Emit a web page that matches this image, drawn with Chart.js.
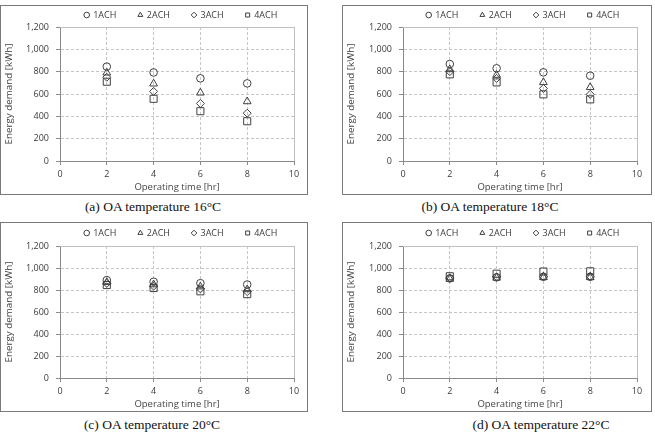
<!DOCTYPE html>
<html>
<head>
<meta charset="utf-8">
<script src="https://cdn.jsdelivr.net/npm/chart.js@4.4.1/dist/chart.umd.min.js"></script>
<style>
  body { margin: 0; background: #fff; width: 655px; height: 436px; position: relative; overflow: hidden; }
  .panel { position: absolute; border: 1px solid #7a7a7a; box-sizing: border-box; }
  .panel canvas { display: block; }
  .caption { position: absolute; width: 240px; text-align: center; font-family: "Liberation Serif", "Times New Roman", serif; font-size: 13.5px; line-height: 16px; color: #111; }
</style>
</head>
<body>
<div class="panel" id="pA" style="left:0px;top:5px;width:308px;height:190px"><canvas id="cA" width="306" height="188"></canvas></div>
<div class="panel" id="pB" style="left:342px;top:5px;width:310px;height:190px"><canvas id="cB" width="308" height="188"></canvas></div>
<div class="panel" id="pC" style="left:0px;top:222px;width:308px;height:190px"><canvas id="cC" width="306" height="188"></canvas></div>
<div class="panel" id="pD" style="left:342px;top:222px;width:310px;height:190px"><canvas id="cD" width="308" height="188"></canvas></div>
<div class="caption" style="left:33px;top:199px">(a) OA temperature 16°C</div>
<div class="caption" style="left:370px;top:199px">(b) OA temperature 18°C</div>
<div class="caption" style="left:32px;top:417px">(c) OA temperature 20°C</div>
<div class="caption" style="left:421px;top:417px">(d) OA temperature 22°C</div>
<script>
// data
const hours = [2, 4, 6, 8];
const seriesNames = ['1ACH', '2ACH', '3ACH', '4ACH'];
const xTicks = [0, 2, 4, 6, 8, 10];
const yTicks = [0, 200, 400, 600, 800, 1000, 1200];

// OA temperature 16°C
const oa16_1ach = [845, 793, 740, 695];
const oa16_2ach = [790, 692, 611, 533];
const oa16_3ach = [750, 623, 515, 428];
const oa16_4ach = [710, 557, 446, 356];
// OA temperature 18°C
const oa18_1ach = [868, 830, 794, 764];
const oa18_2ach = [820, 770, 704, 660];
const oa18_3ach = [800, 740, 650, 597];
const oa18_4ach = [776, 704, 597, 552];
// OA temperature 20°C
const oa20_1ach = [890, 875, 862, 850];
const oa20_2ach = [870, 850, 830, 805];
const oa20_3ach = [860, 835, 810, 785];
const oa20_4ach = [845, 818, 788, 762];
// OA temperature 22°C
const oa22_1ach = [905, 915, 920, 920];
const oa22_2ach = [900, 910, 915, 915];
const oa22_3ach = [910, 920, 925, 925];
const oa22_4ach = [925, 948, 968, 970];

const markers = ['circle', 'triangle', 'rectRot', 'rect'];
const markerSize = [3.8, 4.5, 4, 5];
const inkColor = '#404040';
const axisColor = '#8a8a8a';
const gridColor = '#c6c6c6';
const textColor = '#3a3a3a';
const fontFamily = '"Open Sans", "Noto Sans", sans-serif';

// legend placement + light frame on top/right of the plot area
const framePlugin = {
    id: 'frame',
    afterInit(chart, args, opts) {
        const lg = chart.legend;
        const fit = lg.fit.bind(lg);
        lg.fit = function () {
            fit();
            this.height = opts.legendH;
        };
    },
    afterLayout(chart, args, opts) {
        const lg = chart.legend;
        const pad = lg.options.labels.padding;
        const itemH = lg.options.labels.font.size;
        lg.left = opts.legendX - 600;
        lg.right = opts.legendX + 600;
        lg.top = opts.legendY - itemH / 2 - pad;
        lg.bottom = lg.top + 100;
    },
    beforeDatasetsDraw(chart) {
        const ctx = chart.ctx;
        const a = chart.chartArea;
        ctx.save();
        ctx.strokeStyle = '#c0c0c0';
        ctx.lineWidth = 1;
        ctx.beginPath();
        ctx.moveTo(a.left, a.top + 0.5);
        ctx.lineTo(a.right + 0.5, a.top + 0.5);
        ctx.lineTo(a.right + 0.5, a.bottom);
        ctx.stroke();
        ctx.restore();
    }
};

function makeChart(canvasId, values, layout) {
    const datasets = values.map((vals, i) => ({
        label: seriesNames[i],
        data: hours.map((h, j) => ({ x: h, y: vals[j] })),
        pointStyle: markers[i],
        pointRadius: markerSize[i],
        pointHoverRadius: markerSize[i],
        borderColor: inkColor,
        backgroundColor: 'rgba(0,0,0,0)',
        borderWidth: 1,
        showLine: false
    }));

    return new Chart(document.getElementById(canvasId), {
        type: 'scatter',
        data: { datasets: datasets },
        plugins: [framePlugin],
        options: {
            responsive: false,
            animation: false,
            devicePixelRatio: 1,
            layout: { padding: { left: 0, right: layout.padR, top: 0, bottom: 0 } },
            plugins: {
                tooltip: { enabled: false },
                frame: { legendH: layout.legendH, legendY: layout.legendY, legendX: 180 },
                legend: {
                    display: true,
                    position: 'top',
                    labels: {
                        usePointStyle: true,
                        boxWidth: 4,
                        boxHeight: 4,
                        padding: 22,
                        color: textColor,
                        font: { family: fontFamily, size: 9 }
                    }
                }
            },
            scales: {
                x: {
                    type: 'linear',
                    min: 0,
                    max: 10,
                    afterBuildTicks: s => { s.ticks = xTicks.map(v => ({ value: v })); },
                    afterFit: s => { s.height = 33; },
                    ticks: { color: textColor, padding: 4, font: { family: fontFamily, size: 9 } },
                    grid: { color: gridColor, tickColor: axisColor, tickLength: 4 },
                    border: { color: axisColor, dash: [3, 2] },
                    title: {
                        display: true,
                        text: 'Operating time [hr]',
                        color: '#454545',
                        padding: { top: 0, bottom: 1 },
                        font: { family: fontFamily, size: 9.5 }
                    }
                },
                y: {
                    min: 0,
                    max: 1200,
                    afterBuildTicks: s => { s.ticks = yTicks.map(v => ({ value: v })); },
                    afterFit: s => { s.width = layout.left; },
                    ticks: {
                        color: textColor,
                        padding: 7,
                        font: { family: fontFamily, size: 9 },
                        callback: v => v.toLocaleString('en-US')
                    },
                    grid: { color: gridColor, tickColor: axisColor, tickLength: 4 },
                    border: { color: axisColor, dash: [3, 2] },
                    title: {
                        display: true,
                        text: 'Energy demand [kWh]',
                        color: '#454545',
                        padding: { top: 2, bottom: 0 },
                        font: { family: fontFamily, size: 9.8 }
                    }
                }
            }
        }
    });
}

makeChart('cA', [oa16_1ach, oa16_2ach, oa16_3ach, oa16_4ach], { left: 59, padR: 13, legendH: 21, legendY: 9 });
makeChart('cB', [oa18_1ach, oa18_2ach, oa18_3ach, oa18_4ach], { left: 60, padR: 14, legendH: 21, legendY: 9 });
makeChart('cC', [oa20_1ach, oa20_2ach, oa20_3ach, oa20_4ach], { left: 59, padR: 13, legendH: 23, legendY: 10 });
makeChart('cD', [oa22_1ach, oa22_2ach, oa22_3ach, oa22_4ach], { left: 60, padR: 14, legendH: 23, legendY: 10 });
</script>
</body>
</html>
